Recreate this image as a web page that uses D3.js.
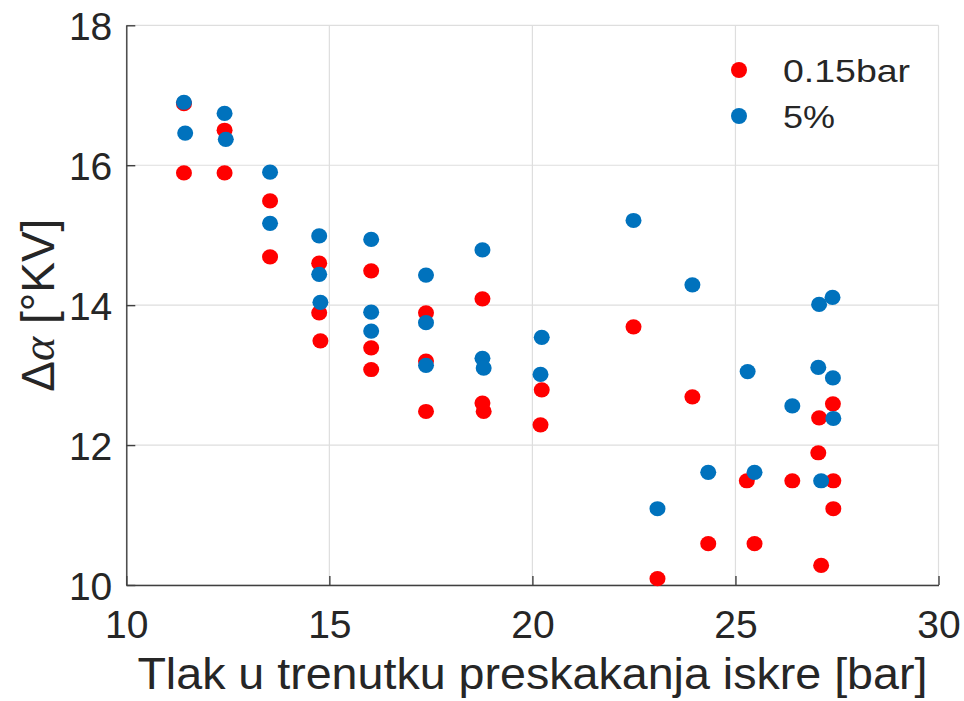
<!DOCTYPE html>
<html>
<head>
<meta charset="utf-8">
<script src="https://cdn.jsdelivr.net/npm/d3@7"></script>
<style>
  body { margin: 0; background: #fff; }
  text { font-family: "Liberation Sans", Arial, sans-serif; fill: #262626; }
</style>
</head>
<body>
<div id="chart"></div>
<script>
// chart size and plot box
const width = 964;
const height = 701;
const margin = { left: 126.3, right: 25.5, top: 25.3, bottom: 116 };

// data
const seriesNames = ["0.15bar", "5%"];
const seriesColors = ["#ff0000", "#0072bd"];

const xRed = [11.42, 11.42, 12.42, 12.42, 13.54, 13.54, 14.75, 14.75, 14.78, 16.03, 16.03, 16.03,
  17.38, 17.38, 17.38, 18.77, 18.77, 18.80, 20.23, 20.20, 22.49, 23.08, 23.94, 24.33,
  25.28, 25.47, 26.40, 27.06, 27.04, 27.11, 27.40, 27.41, 27.41];
const yRed = [16.88, 15.89, 16.50, 15.89, 15.49, 14.69, 14.60, 13.89, 13.49, 14.49, 13.39, 13.08,
  13.89, 13.20, 12.48, 14.09, 12.60, 12.48, 12.79, 12.29, 13.69, 10.09, 12.69, 10.59,
  11.49, 10.59, 11.49, 12.39, 11.89, 10.28, 12.59, 11.49, 11.09];

const xBlue = [11.42, 11.45, 12.42, 12.45, 13.54, 13.54, 14.75, 14.75, 14.78, 16.03, 16.03, 16.03,
  17.38, 17.38, 17.38, 18.77, 18.77, 18.80, 20.23, 20.20, 22.49, 23.08, 23.94, 24.33,
  25.30, 25.47, 26.40, 27.06, 27.04, 27.11, 27.39, 27.40, 27.41];
const yBlue = [16.90, 16.46, 16.74, 16.37, 15.90, 15.17, 14.99, 14.44, 14.04, 14.94, 13.90, 13.63,
  14.43, 13.75, 13.14, 14.79, 13.24, 13.10, 13.54, 13.01, 15.21, 11.09, 14.29, 11.61,
  13.05, 11.61, 12.56, 14.01, 13.11, 11.49, 14.11, 12.96, 12.38];

const xTicks = [10, 15, 20, 25, 30];
const yTicks = [10, 12, 14, 16, 18];

const svg = d3.select("#chart")
  .append("svg")
  .attr("width", width)
  .attr("height", height);

const x = d3.scaleLinear()
  .domain([10, 30])
  .range([margin.left, width - margin.right]);

const y = d3.scaleLinear()
  .domain([10, 18])
  .range([height - margin.bottom, margin.top]);

// grid
svg.append("g")
  .selectAll("line")
  .data(xTicks)
  .enter()
  .append("line")
  .attr("x1", d => x(d)).attr("x2", d => x(d))
  .attr("y1", y(10)).attr("y2", y(18))
  .attr("stroke", "#dedede")
  .attr("stroke-width", 1.2);

svg.append("g")
  .selectAll("line")
  .data(yTicks)
  .enter()
  .append("line")
  .attr("x1", x(10)).attr("x2", x(30))
  .attr("y1", d => y(d)).attr("y2", d => y(d))
  .attr("stroke", "#dedede")
  .attr("stroke-width", 1.2);

// axes, ticks pointing inward
const xAxis = svg.append("g")
  .attr("transform", `translate(0,${y(10)})`)
  .call(d3.axisBottom(x).tickValues(xTicks).tickSize(-9).tickPadding(16).tickSizeOuter(0));

const yAxis = svg.append("g")
  .attr("transform", `translate(${x(10)},0)`)
  .call(d3.axisLeft(y).tickValues(yTicks).tickSize(-9).tickPadding(14).tickSizeOuter(0));

[xAxis, yAxis].forEach(a => {
  a.select(".domain").attr("stroke", "#404040").attr("stroke-width", 1.4);
  a.selectAll(".tick line").attr("stroke", "#404040").attr("stroke-width", 1.4);
  a.selectAll(".tick text")
    .attr("fill", "#262626")
    .style("font-family", "'Liberation Sans', Arial, sans-serif")
    .attr("font-size", "39px");
});
xAxis.selectAll(".tick text").attr("dy", null).attr("y", 53);
yAxis.selectAll(".tick text").attr("dy", "0.36em");

// points, red below blue
const seriesData = [
  xRed.map((v, i) => ({ x: v, y: yRed[i] })),
  xBlue.map((v, i) => ({ x: v, y: yBlue[i] }))
];

seriesData.forEach((pts, s) => {
  svg.append("g")
    .selectAll("ellipse")
    .data(pts)
    .enter()
    .append("ellipse")
    .attr("cx", d => x(d.x))
    .attr("cy", d => y(d.y))
    .attr("rx", 8)
    .attr("ry", 7.6)
    .attr("fill", seriesColors[s]);
});

// axis labels
svg.append("text")
  .attr("x", (x(10) + x(30)) / 2)
  .attr("y", 689)
  .attr("text-anchor", "middle")
  .attr("font-size", "44px")
  .attr("textLength", 790)
  .attr("lengthAdjust", "spacingAndGlyphs")
  .text("Tlak u trenutku preskakanja iskre [bar]");

const yLabel = svg.append("text")
  .attr("transform", `translate(54,${(y(10) + y(18)) / 2}) rotate(-90)`)
  .attr("text-anchor", "middle")
  .attr("font-size", "46px");
yLabel.append("tspan").text("\u0394");
yLabel.append("tspan")
  .style("font-family", "'Liberation Serif', 'DejaVu Serif', serif")
  .style("font-style", "italic")
  .text("\u03b1");
yLabel.append("tspan").text(" [\u00b0KV]");

// legend
const legend = svg.append("g");
seriesNames.forEach((name, i) => {
  legend.append("circle")
    .attr("cx", 739)
    .attr("cy", 70 + i * 46)
    .attr("r", 8)
    .attr("fill", seriesColors[i]);
  legend.append("text")
    .attr("x", 783)
    .attr("y", 70 + i * 46)
    .attr("dy", "0.36em")
    .attr("font-size", "32px")
    .attr("textLength", i === 0 ? 127 : 52)
    .attr("lengthAdjust", "spacingAndGlyphs")
    .attr("fill", "#000")
    .text(name);
});
</script>
</body>
</html>
